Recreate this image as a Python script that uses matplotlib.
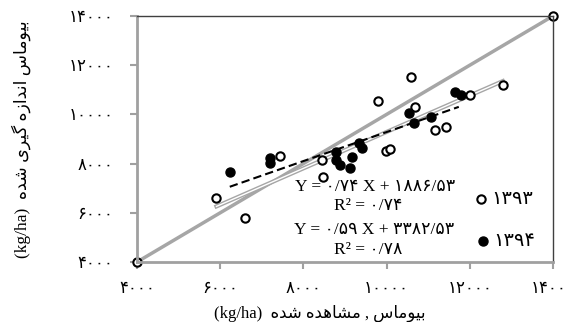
import numpy as np
import matplotlib
matplotlib.use("Agg")
import matplotlib.pyplot as plt

# data (kg/ha)
obs_1393 = [5910, 6590, 7430, 8440, 8460, 9790, 9995, 10075, 10580, 10680, 11155, 11420, 11995, 12795]
pred_1393 = [6590, 5780, 8310, 8150, 7440, 10560, 8510, 8610, 11530, 10310, 9370, 9480, 10790, 11180]
obs_1394 = [6230, 7190, 7190, 8795, 8795, 8875, 9115, 9170, 9340, 9420, 10540, 10660, 11075, 11635, 11795]
pred_1394 = [7660, 8215, 8040, 8485, 8145, 7945, 7810, 8280, 8850, 8620, 10045, 9640, 9905, 10925, 10790]
fit_1393 = (0.74, 1886.53)
fit_1394 = (0.59, 3382.53)
one_to_one = [4000, 14000]
ticks = [4000, 6000, 8000, 10000, 12000, 14000]
years = ["1393", "1394"]

FA = str.maketrans("0123456789.", "۰۱۲۳۴۵۶۷۸۹/")


def fa(s):
	return str(s).translate(FA)


# simple arabic shaping (presentation forms) + visual order
FORMS = {
	"ب": "\ufe8f\ufe90\ufe91\ufe92",
	"ی": "\ufbfc\ufbfd\ufbfe\ufbff",
	"و": "\ufeed\ufeee\ufeed\ufeee",
	"م": "\ufee1\ufee2\ufee3\ufee4",
	"ا": "\ufe8d\ufe8e\ufe8d\ufe8e",
	"س": "\ufeb1\ufeb2\ufeb3\ufeb4",
	"ن": "\ufee5\ufee6\ufee7\ufee8",
	"د": "\ufea9\ufeaa\ufea9\ufeaa",
	"ز": "\ufeaf\ufeb0\ufeaf\ufeb0",
	"ه": "\ufee9\ufeea\ufeeb\ufeec",
	"گ": "\ufb92\ufb93\ufb94\ufb95",
	"ر": "\ufead\ufeae\ufead\ufeae",
	"ش": "\ufeb5\ufeb6\ufeb7\ufeb8",
}
RIGHT_ONLY = set("وادزر")


def shape(s):
	out = []
	for i, c in enumerate(s):
		if c not in FORMS:
			out.append(c)
			continue
		prev = s[i - 1] if i > 0 else ""
		nxt = s[i + 1] if i + 1 < len(s) else ""
		jp = prev in FORMS and prev not in RIGHT_ONLY
		jn = nxt in FORMS and c not in RIGHT_ONLY
		out.append(FORMS[c][int(jp) + 2 * int(jn)])
	return "".join(reversed(out))


plt.rcParams["font.family"] = ["Liberation Serif", "DejaVu Sans"]

fig = plt.figure(figsize=(5.66, 3.22), dpi=100)
ax = fig.add_axes([137 / 566, 60 / 322, 416 / 566, 246 / 322])

# 1:1 line
ax.plot(one_to_one, one_to_one, color="#a6a6a6", lw=2.5, marker="o", ms=6,
	mfc="white", mec="black", mew=1.5, zorder=2, clip_on=False)

# trend lines
x1 = np.array([min(obs_1393), max(obs_1393)])
ax.plot(x1, fit_1393[0] * x1 + fit_1393[1], color="#a6a6a6", lw=3, zorder=3)
ax.plot(x1, fit_1393[0] * x1 + fit_1393[1], color="white", lw=1, zorder=3)
x2 = np.array([min(obs_1394), max(obs_1394) - 60])
ax.plot(x2, fit_1394[0] * x2 + fit_1394[1], color="black", lw=1.5,
	dashes=(4, 2), zorder=3)

ax.plot(obs_1393, pred_1393, "o", ms=6, mfc="white", mec="black", mew=1.5, zorder=4)
ax.plot(obs_1394, pred_1394, "o", ms=6.5, color="black", zorder=5)

ax.set_xlim(4000, 14000)
ax.set_ylim(4000, 14000)
ax.set_xticks(ticks)
ax.set_yticks(ticks)
ax.set_xticklabels([fa(t) for t in ticks], fontsize=12)
ax.set_yticklabels([fa(t) for t in ticks], fontsize=12)
ax.tick_params(axis="both", direction="out", length=5, width=1.5, color="#a0a0a0")
ax.tick_params(axis="x", pad=9)
ax.tick_params(axis="y", pad=12)

for side in ["left", "bottom"]:
	ax.spines[side].set_color("#a0a0a0")
	ax.spines[side].set_linewidth(2)
for side in ["top", "right"]:
	ax.spines[side].set_color("#404040")
	ax.spines[side].set_linewidth(1)

# labels
ax.set_xlabel("(kg/ha)  " + shape("بیوماس , مشاهده شده"), fontsize=12)
ax.xaxis.set_label_coords(0.44, -0.175)
ax.set_ylabel("(kg/ha)  " + shape("بیوماس اندازه گیری شده"), fontsize=12.5)
ax.yaxis.set_label_coords(-0.255, 0.5)

# equations and legend
eq_kw = dict(ha="center", va="center", fontsize=12.5, transform=fig.transFigure)
fig.text(375 / 566, 1 - 187 / 322, "Y = %s X + %s" % (fa("0.74"), fa("1886.53")), **eq_kw)
fig.text(368 / 566, 1 - 206 / 322, "R² = %s" % fa("0.74"), **eq_kw)
fig.text(374 / 566, 1 - 230 / 322, "Y = %s X + %s" % (fa("0.59"), fa("3382.53")), **eq_kw)
fig.text(368 / 566, 1 - 250 / 322, "R² = %s" % fa("0.78"), **eq_kw)

leg_ax = fig.add_axes([0, 0, 1, 1], facecolor="none")
leg_ax.set_xlim(0, 566)
leg_ax.set_ylim(322, 0)
leg_ax.axis("off")
leg_ax.plot([481], [199], "o", ms=6, mfc="white", mec="black", mew=1.5)
leg_ax.plot([483], [241], "o", ms=6.5, color="black")
leg_ax.text(491, 199, fa(years[0]), fontsize=14, va="center", ha="left")
leg_ax.text(493, 241, fa(years[1]), fontsize=14, va="center", ha="left")

fig.savefig("out.png", dpi=100)
